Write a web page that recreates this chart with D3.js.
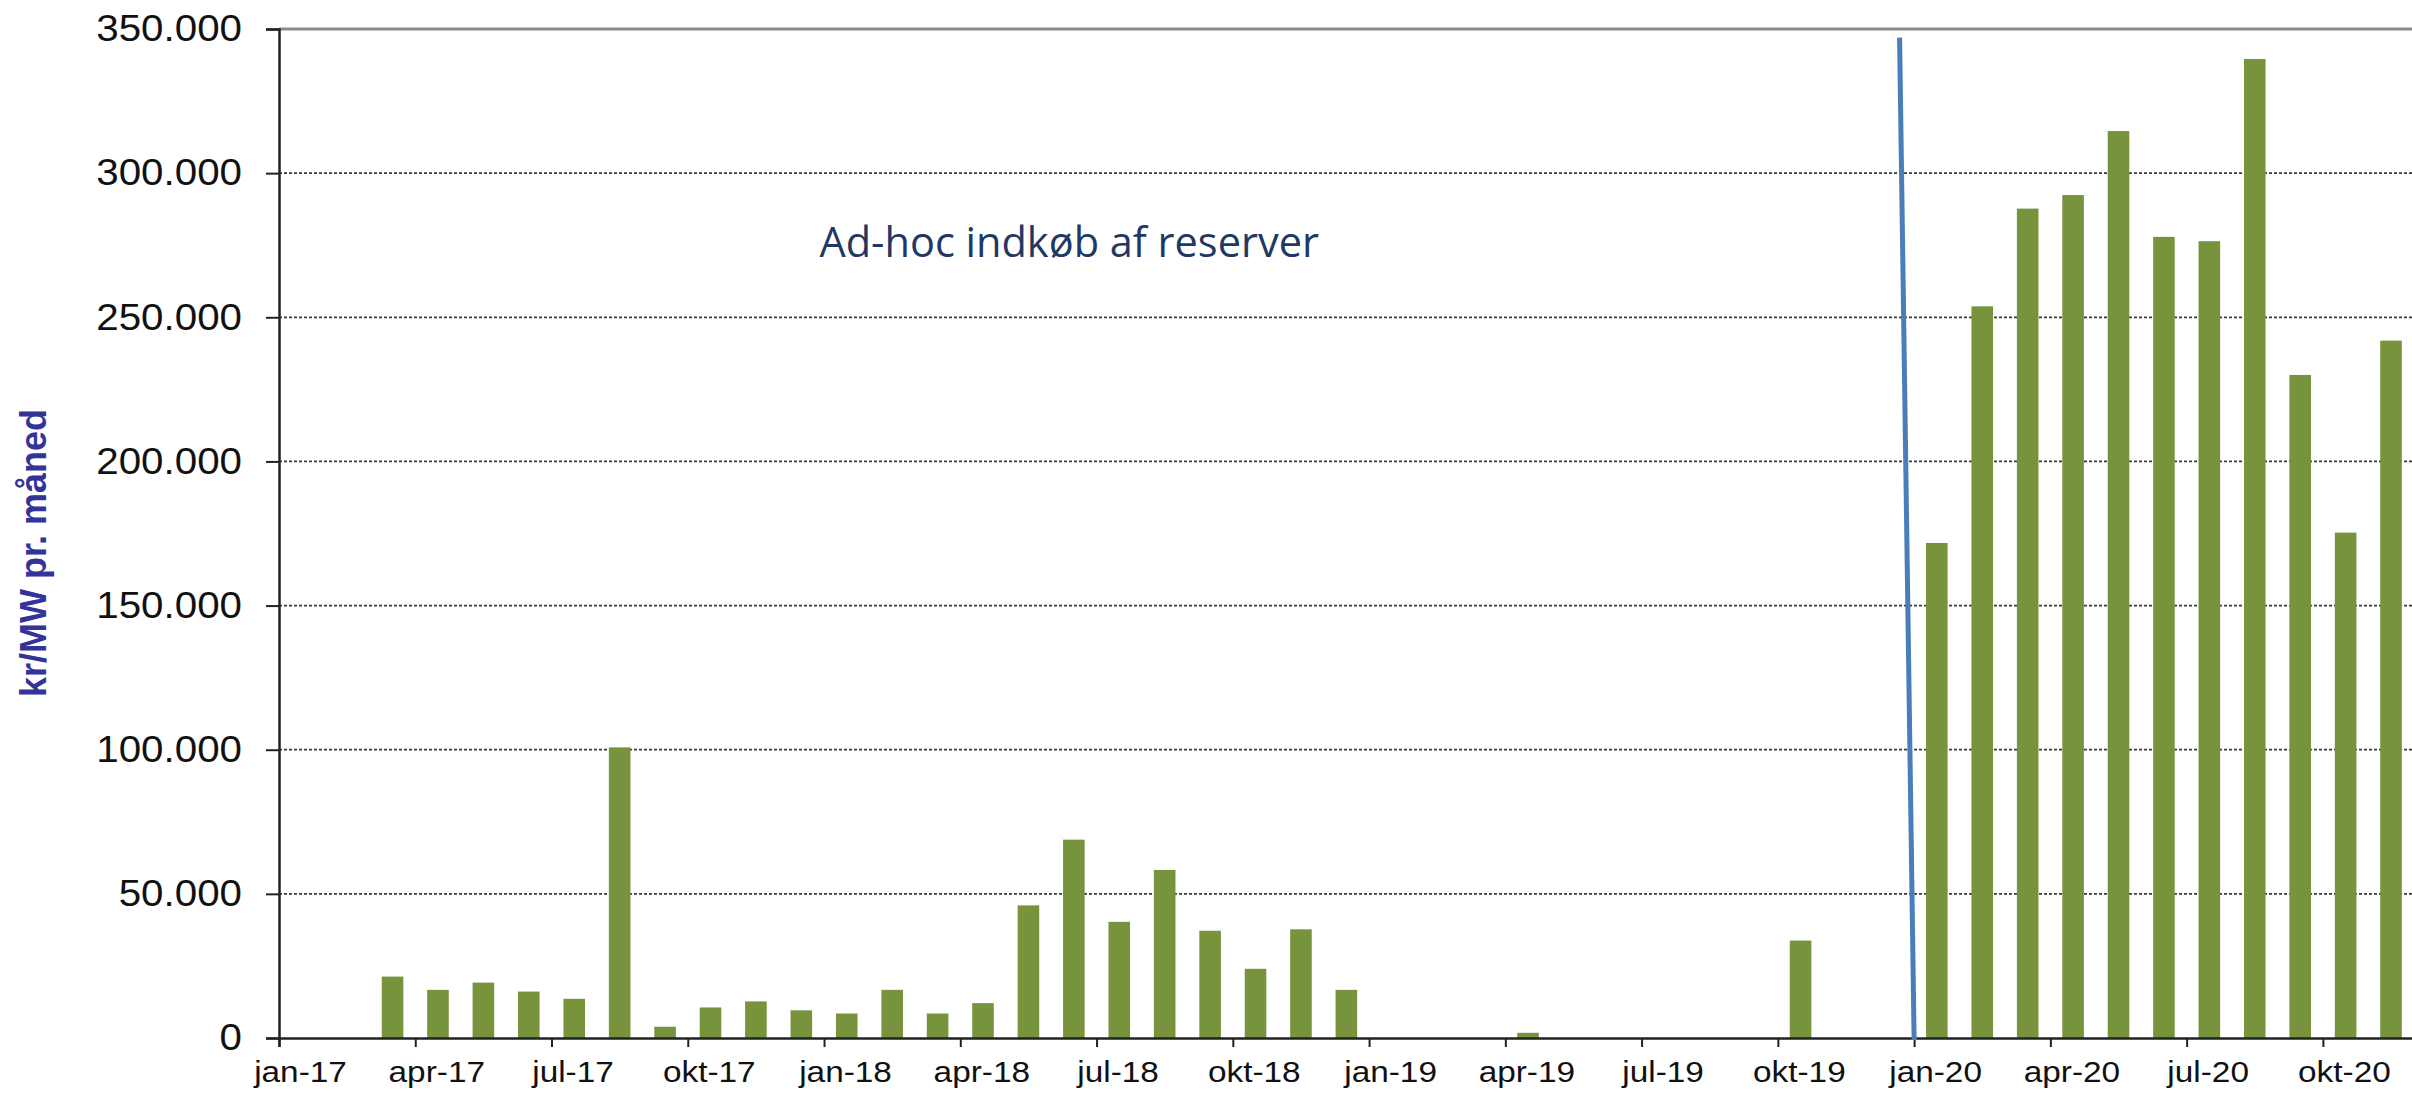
<!DOCTYPE html>
<html>
<head>
<meta charset="utf-8">
<script src="https://cdn.jsdelivr.net/npm/d3@7"></script>
<style>
  html, body { margin: 0; padding: 0; background: #fff; overflow: hidden; }
  svg { display: block; }
</style>
</head>
<body>
<script>
var W = 2412, H = 1093;

// months from jan-17, values in kr/MW pr. maaned
var monthNames = ['jan', 'feb', 'mar', 'apr', 'maj', 'jun', 'jul', 'aug', 'sep', 'okt', 'nov', 'dec'];
var years = ['17', '18', '19', '20'];

var values2017 = [0, 0, 21300, 16700, 19200, 16100, 13600, 100800, 3900, 10600, 12700, 9600];
var values2018 = [8500, 16700, 8500, 12100, 46000, 68800, 40300, 58300, 37200, 24000, 37700, 16700];
var values2019 = [0, 0, 0, 1800, 0, 0, 0, 0, 0, 33800, 0, 0];
var values2020 = [171700, 253800, 287700, 292400, 314600, 277900, 276400, 339600, 230000, 175300, 241900];

var yTicks = [0, 50000, 100000, 150000, 200000, 250000, 300000, 350000];

var annotation = 'Ad-hoc indkøb af reserver';
var yTitle = 'kr/MW pr. måned';

var months = [];
years.forEach(function(yr) {
  monthNames.forEach(function(m) { months.push(m + '-' + yr); });
});
var values = values2017.concat(values2018, values2019, values2020);
var data = values.map(function(v, i) { return { month: months[i], value: v }; });

var plotLeft = 279, plotTop = 29, plotBottom = 1038;
var step = 45.42;
var plotRight = plotLeft + months.length * step;

var svg = d3.select('body').append('svg')
  .attr('width', W).attr('height', H);

var x = d3.scaleBand()
  .domain(months)
  .range([plotLeft, plotRight])
  .paddingInner(0.525)
  .paddingOuter(0.2625);

// month index scale: ticks sit at the start of each month
var xi = d3.scaleLinear().domain([0, months.length]).range([plotLeft, plotRight]);

var y = d3.scaleLinear().domain([0, 350000]).range([plotBottom, plotTop]);

var nf = d3.formatLocale({ decimal: ',', thousands: '.', grouping: [3], currency: ['', ' kr'] }).format(',d');

// stretch a text horizontally, the source fonts run a bit wide
function widen(sel, k) {
  sel.each(function() {
    var w = this.getComputedTextLength();
    d3.select(this).attr('textLength', w * k).attr('lengthAdjust', 'spacingAndGlyphs');
  });
}

// dashed grid lines
svg.append('g')
  .selectAll('line')
  .data(yTicks.filter(function(d) { return d > 0 && d < 350000; }))
  .join('line')
  .attr('x1', plotLeft).attr('x2', W)
  .attr('y1', function(d) { return y(d); })
  .attr('y2', function(d) { return y(d); })
  .attr('stroke', '#3a3a3a')
  .attr('stroke-width', 1.8)
  .attr('stroke-dasharray', '3,2');

// top border
svg.append('line')
  .attr('x1', plotLeft).attr('x2', W)
  .attr('y1', y(350000)).attr('y2', y(350000))
  .attr('stroke', '#8a8a8a')
  .attr('stroke-width', 3);

// bars
svg.append('g')
  .selectAll('rect')
  .data(data.filter(function(d) { return d.value > 0; }))
  .join('rect')
  .attr('x', function(d) { return x(d.month); })
  .attr('width', x.bandwidth())
  .attr('y', function(d) { return y(d.value); })
  .attr('height', function(d) { return y(0) - y(d.value); })
  .attr('fill', '#77933C');

// y axis
var gy = svg.append('g')
  .attr('transform', 'translate(' + plotLeft + ',0)')
  .call(d3.axisLeft(y).tickValues(yTicks).tickFormat(nf).tickSize(13).tickPadding(24));
gy.select('.domain').attr('stroke', '#222').attr('stroke-width', 2.5);
gy.selectAll('.tick line').attr('stroke', '#222').attr('stroke-width', 2);
gy.selectAll('.tick text')
  .attr('fill', '#111')
  .style('font-family', 'Liberation Sans, Arial, sans-serif')
  .style('font-size', '37px')
  .call(widen, 1.09);

// x axis: tick at month start, label centred a bit to the right
var gx = svg.append('g')
  .attr('transform', 'translate(0,' + plotBottom + ')')
  .call(d3.axisBottom(xi)
    .tickValues(d3.range(0, months.length, 3))
    .tickFormat(function(i) { return months[i]; })
    .tickSize(9).tickPadding(14));
gx.select('.domain').attr('stroke', '#222').attr('stroke-width', 2.5);
gx.selectAll('.tick line').attr('stroke', '#222').attr('stroke-width', 2);
gx.selectAll('.tick text')
  .attr('x', 21)
  .attr('fill', '#111')
  .style('font-family', 'Liberation Sans, Arial, sans-serif')
  .style('font-size', '29px')
  .call(widen, 1.15);

// y axis title
svg.append('text')
  .attr('transform', 'translate(46,553) rotate(-90)')
  .attr('text-anchor', 'middle')
  .attr('fill', '#333399')
  .style('font-family', 'Liberation Sans, Arial, sans-serif')
  .style('font-weight', 'bold')
  .style('font-size', '36px')
  .text(yTitle);

// marker line (start of new scheme)
svg.append('line')
  .attr('x1', xi(35.68)).attr('y1', y(347000))
  .attr('x2', xi(36.0)).attr('y2', y(-700))
  .attr('stroke', '#4A7EBB')
  .attr('stroke-width', 5);

// annotation
svg.append('text')
  .attr('x', xi(11.9))
  .attr('y', y(271000))
  .attr('fill', '#1F3864')
  .style('font-family', 'Open Sans, sans-serif')
  .style('font-size', '41.5px')
  .text(annotation);
</script>
</body>
</html>
